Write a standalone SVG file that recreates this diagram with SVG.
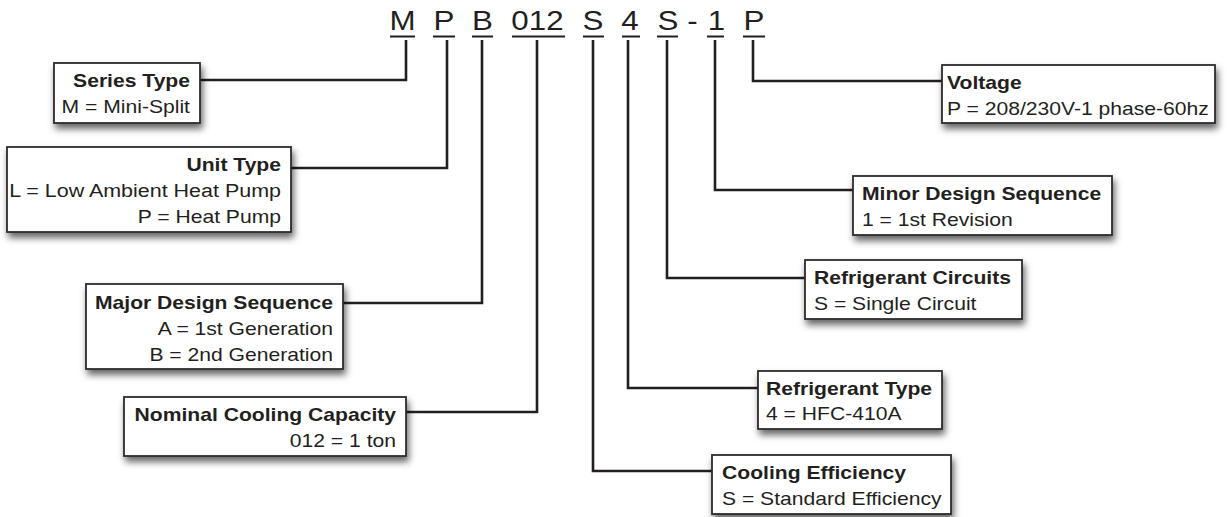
<svg xmlns="http://www.w3.org/2000/svg" width="1227" height="517" viewBox="0 0 1227 517">
<defs>
<filter id="sh" x="-10%" y="-20%" width="125%" height="160%">
<feDropShadow dx="2" dy="5" stdDeviation="3.5" flood-color="#000" flood-opacity="0.6"/>
</filter>
<style>
.box{fill:#fff;stroke:#2e2b2c;stroke-width:1.8;filter:url(#sh)}
.t{font-family:"Liberation Sans",Arial,sans-serif;font-size:17.6px;fill:#231f20}
.b{font-weight:bold}
.e{text-anchor:end}
.code{font-family:"Liberation Sans",Arial,sans-serif;font-size:28px;fill:#231f20;text-anchor:middle}
.ul{stroke:#231f20;stroke-width:2}
.con{fill:none;stroke:#231f20;stroke-width:2.6}
</style>
</defs>
<rect width="1227" height="517" fill="#fff"/>

<g id="code">
<text class="code" transform="translate(402.5 30) scale(1.12 1)">M</text>
<text class="code" transform="translate(444 30) scale(1.12 1)">P</text>
<text class="code" transform="translate(482.5 30) scale(1.12 1)">B</text>
<text class="code" transform="translate(537.5 30) scale(1.12 1)">012</text>
<text class="code" transform="translate(593 30) scale(1.12 1)">S</text>
<text class="code" transform="translate(630 30) scale(1.12 1)">4</text>
<text class="code" transform="translate(668 30) scale(1.12 1)">S</text>
<text class="code" transform="translate(692.5 30) scale(1.12 1)">-</text>
<text class="code" transform="translate(716.5 30) scale(1.12 1)">1</text>
<text class="code" transform="translate(754 30) scale(1.12 1)">P</text>
<g class="ul">
<line x1="390" y1="36.5" x2="415" y2="36.5"/>
<line x1="433" y1="36.5" x2="455" y2="36.5"/>
<line x1="472" y1="36.5" x2="493" y2="36.5"/>
<line x1="512" y1="36.5" x2="565" y2="36.5"/>
<line x1="583" y1="36.5" x2="604" y2="36.5"/>
<line x1="622" y1="36.5" x2="640" y2="36.5"/>
<line x1="657" y1="36.5" x2="678" y2="36.5"/>
<line x1="707" y1="36.5" x2="724" y2="36.5"/>
<line x1="743" y1="36.5" x2="765" y2="36.5"/>
</g>
</g>

<g id="connectors" class="con">
<path d="M406,40 V80 H200"/>
<path d="M447,40 V168 H291"/>
<path d="M482,40 V303 H343"/>
<path d="M537,40 V412 H406"/>
<path d="M593,40 V471 H712"/>
<path d="M628,40 V388 H758"/>
<path d="M667,40 V278 H805"/>
<path d="M715,40 V190 H853"/>
<path d="M753,40 V81 H942"/>
</g>

<g id="series-type">
<rect class="box" x="54" y="63" width="146" height="60"/>
<text class="t b e" transform="translate(190 87) scale(1.2 1)">Series Type</text>
<text class="t e" transform="translate(190 113) scale(1.2 1)">M = Mini-Split</text>
</g>

<g id="unit-type">
<rect class="box" x="7" y="147" width="284" height="85"/>
<text class="t b e" transform="translate(281 171) scale(1.2 1)">Unit Type</text>
<text class="t e" transform="translate(281 197) scale(1.22 1)">L = Low Ambient Heat Pump</text>
<text class="t e" transform="translate(281 223) scale(1.2 1)">P = Heat Pump</text>
</g>

<g id="major-design">
<rect class="box" x="86" y="284" width="257" height="85"/>
<text class="t b e" transform="translate(333 309) scale(1.2 1)">Major Design Sequence</text>
<text class="t e" transform="translate(333 335) scale(1.2 1)">A = 1st Generation</text>
<text class="t e" transform="translate(333 361) scale(1.2 1)">B = 2nd Generation</text>
</g>

<g id="nominal-capacity">
<rect class="box" x="124" y="397" width="282" height="59"/>
<text class="t b e" transform="translate(396 421) scale(1.2 1)">Nominal Cooling Capacity</text>
<text class="t e" transform="translate(396 447) scale(1.2 1)">012 = 1 ton</text>
</g>

<g id="voltage">
<rect class="box" x="942" y="65" width="273" height="58"/>
<text class="t b" transform="translate(947 89) scale(1.2 1)">Voltage</text>
<text class="t" transform="translate(947 115) scale(1.2 1)">P = 208/230V-1 phase-60hz</text>
</g>

<g id="minor-design">
<rect class="box" x="853" y="176" width="259" height="59"/>
<text class="t b" transform="translate(862 200) scale(1.2 1)">Minor Design Sequence</text>
<text class="t" transform="translate(862 226) scale(1.2 1)">1 = 1st Revision</text>
</g>

<g id="refrigerant-circuits">
<rect class="box" x="805" y="260" width="217" height="59"/>
<text class="t b" transform="translate(814 284) scale(1.2 1)">Refrigerant Circuits</text>
<text class="t" transform="translate(814 310) scale(1.2 1)">S = Single Circuit</text>
</g>

<g id="refrigerant-type">
<rect class="box" x="758" y="371" width="184" height="58"/>
<text class="t b" transform="translate(766 395) scale(1.2 1)">Refrigerant Type</text>
<text class="t" transform="translate(766 420) scale(1.2 1)">4 = HFC-410A</text>
</g>

<g id="cooling-efficiency">
<rect class="box" x="712" y="455" width="239" height="59"/>
<text class="t b" transform="translate(722 479) scale(1.2 1)">Cooling Efficiency</text>
<text class="t" transform="translate(722 505) scale(1.2 1)">S = Standard Efficiency</text>
</g>
</svg>
